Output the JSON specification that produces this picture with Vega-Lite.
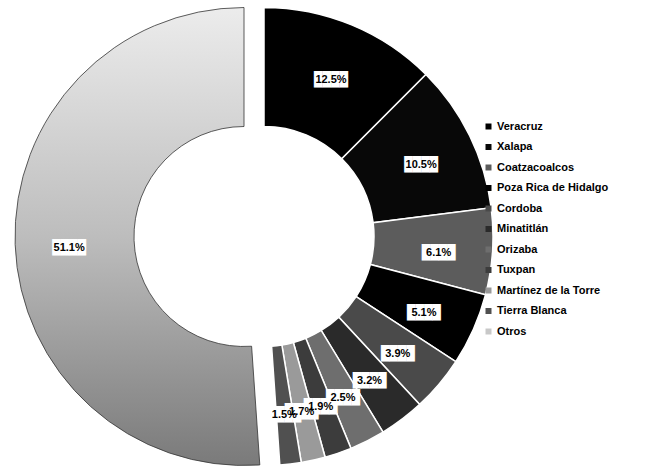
{
  "$schema": "https://vega.github.io/schema/vega-lite/v6.json",
  "width": 528,
  "height": 473,
  "padding": 0,
  "autosize": {"type": "pad"},
  "background": "white",
  "config": {"view": {"stroke": null}},
  "data": {
    "values": [
      {"idx": 1, "name": "Veracruz", "pct": 12.5, "label": "12.5%"},
      {"idx": 2, "name": "Xalapa", "pct": 10.5, "label": "10.5%"},
      {"idx": 3, "name": "Coatzacoalcos", "pct": 6.1, "label": "6.1%"},
      {"idx": 4, "name": "Poza Rica de Hidalgo", "pct": 5.1, "label": "5.1%"},
      {"idx": 5, "name": "Cordoba", "pct": 3.9, "label": "3.9%"},
      {"idx": 6, "name": "Minatitlán", "pct": 3.2, "label": "3.2%"},
      {"idx": 7, "name": "Orizaba", "pct": 2.5, "label": "2.5%"},
      {"idx": 8, "name": "Tuxpan", "pct": 1.9, "label": "1.9%"},
      {"idx": 9, "name": "Martínez de la Torre", "pct": 1.7, "label": "1.7%"},
      {"idx": 10, "name": "Tierra Blanca", "pct": 1.5, "label": "1.5%"},
      {"idx": 11, "name": "Otros", "pct": 51.1, "label": "51.1%"}
    ]
  },
  "encoding": {
    "theta": {"field": "pct", "type": "quantitative", "stack": true},
    "order": {"field": "idx", "type": "quantitative"}
  },
  "layer": [
    {
      "mark": {"type": "arc", "innerRadius": 110, "outerRadius": 229, "stroke": "white", "strokeWidth": 1.5},
      "encoding": {
        "color": {
          "field": "name",
          "type": "nominal",
          "sort": {"field": "idx"},
          "scale": {
            "domain": ["Veracruz", "Xalapa", "Coatzacoalcos", "Poza Rica de Hidalgo", "Cordoba", "Minatitlán", "Orizaba", "Tuxpan", "Martínez de la Torre", "Tierra Blanca", "Otros"],
            "range": ["#000000", "#080808", "#5c5c5c", "#000000", "#4a4a4a", "#2a2a2a", "#6e6e6e", "#3c3c3c", "#9a9a9a", "#505050", "#c8c8c8"]
          },
          "legend": {
            "title": null,
            "orient": "none",
            "legendX": 483,
            "legendY": 121,
            "symbolType": "square",
            "symbolSize": 36,
            "symbolStrokeWidth": 0,
            "labelFont": "Liberation Sans",
            "labelFontSize": 11,
            "labelFontWeight": "bold",
            "labelColor": "#000000",
            "rowPadding": 8.5,
            "labelOffset": 3
          }
        },
        "opacity": {"condition": {"test": "datum.name === 'Otros'", "value": 0}, "value": 1}
      }
    },
    {
      "mark": {
        "type": "arc", "innerRadius": 110, "outerRadius": 229, "xOffset": -20,
        "stroke": "#333333", "strokeWidth": 0.8,
        "fill": {"gradient": "linear", "x1": 0, "y1": 0, "x2": 0, "y2": 1,
          "stops": [{"offset": 0, "color": "#ececec"}, {"offset": 0.5, "color": "#bdbdbd"}, {"offset": 1, "color": "#7a7a7a"}]}
      },
      "encoding": {
        "opacity": {"condition": {"test": "datum.name === 'Otros'", "value": 1}, "value": 0}
      }
    },
    {
      "mark": {"type": "text", "radius": 175, "dy": 5, "font": "DejaVu Sans Mono", "fontSize": 14, "color": "white", "baseline": "middle", "align": "center"},
      "encoding": {
        "text": {"value": "████"},
        "opacity": {"condition": {"test": "datum.name === 'Otros'", "value": 0}, "value": 1}
      }
    },
    {
      "mark": {"type": "text", "radius": 175, "xOffset": -20, "dy": 5, "font": "DejaVu Sans Mono", "fontSize": 14, "color": "white", "baseline": "middle", "align": "center"},
      "encoding": {
        "text": {"value": "████"},
        "opacity": {"condition": {"test": "datum.name === 'Otros'", "value": 1}, "value": 0}
      }
    },
    {
      "mark": {"type": "text", "radius": 175, "dy": 5, "font": "Liberation Sans", "fontSize": 11, "fontWeight": "bold", "color": "black", "baseline": "middle", "align": "center"},
      "encoding": {
        "text": {"field": "label"},
        "opacity": {"condition": {"test": "datum.name === 'Otros'", "value": 0}, "value": 1}
      }
    },
    {
      "mark": {"type": "text", "radius": 175, "xOffset": -20, "dy": 5, "font": "Liberation Sans", "fontSize": 11, "fontWeight": "bold", "color": "black", "baseline": "middle", "align": "center"},
      "encoding": {
        "text": {"field": "label"},
        "opacity": {"condition": {"test": "datum.name === 'Otros'", "value": 1}, "value": 0}
      }
    }
  ]
}
